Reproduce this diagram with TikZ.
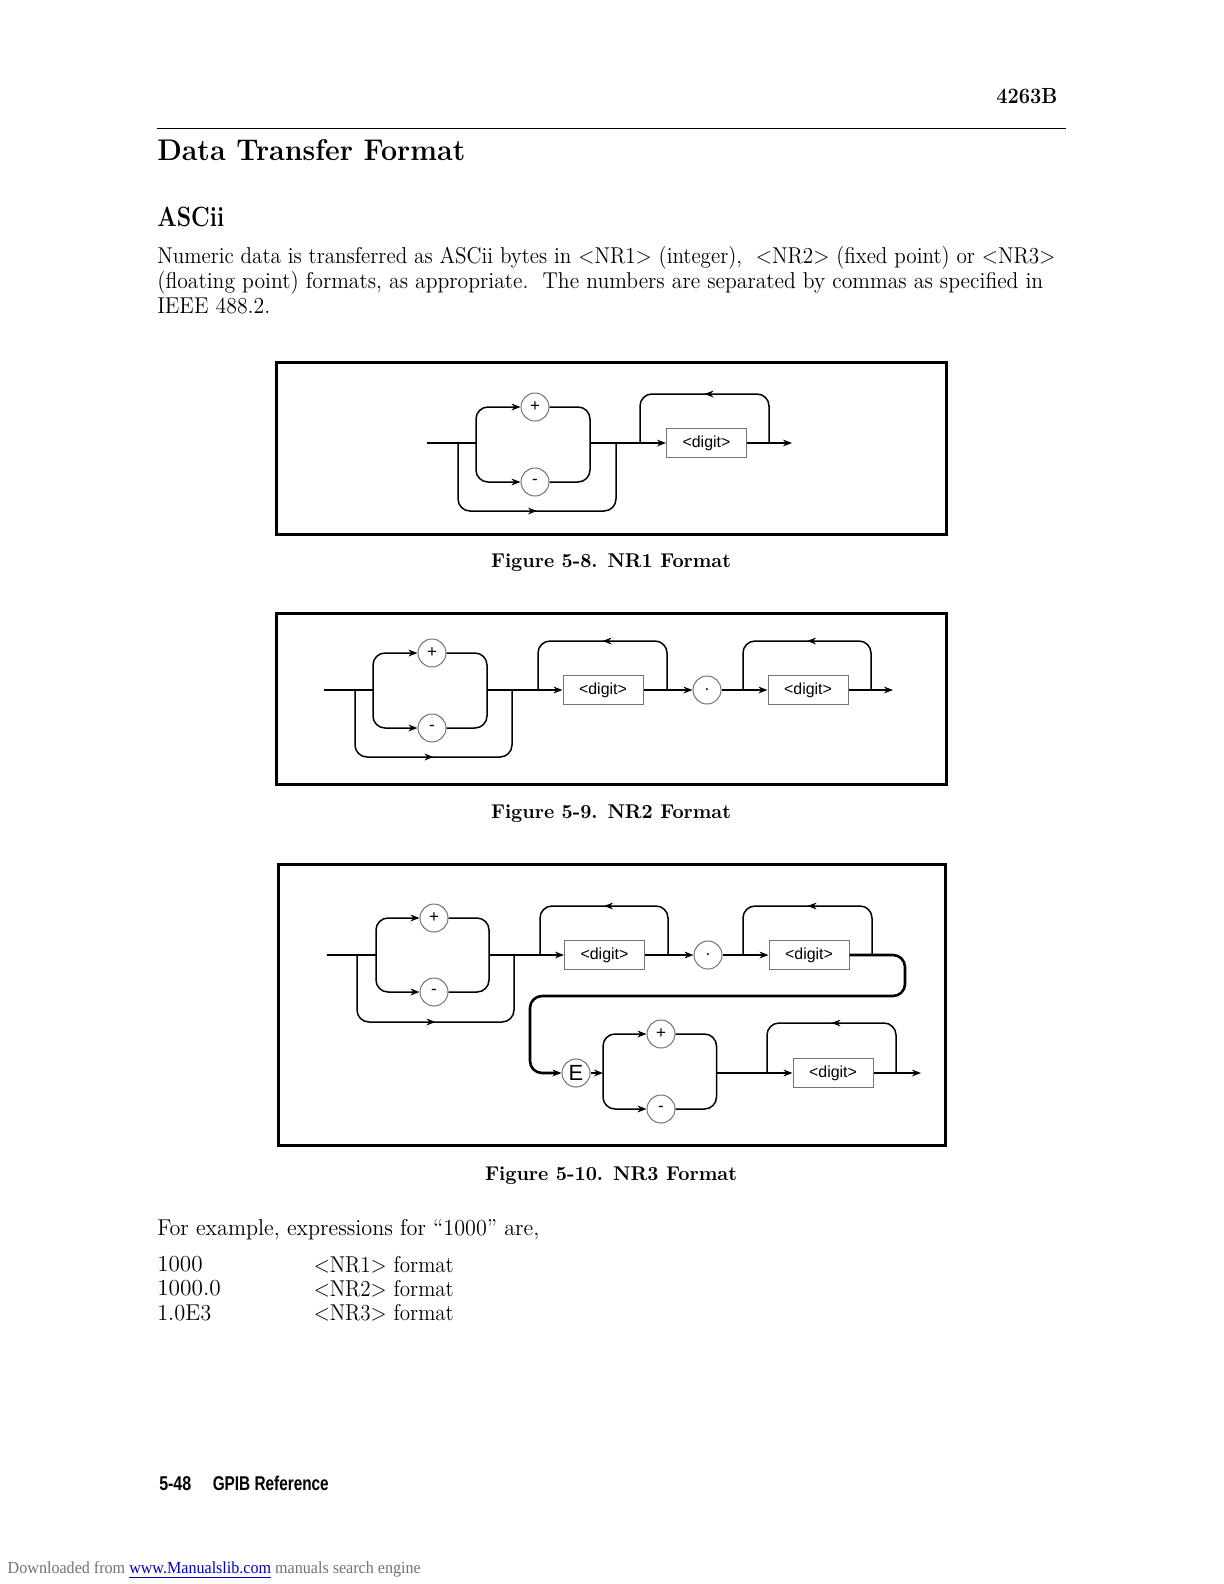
\documentclass[tikz,border=0pt]{standalone}
\usepackage{fontspec}
\setsansfont{Liberation Sans}
\newfontfamily\serifdl{Liberation Serif}
\usepackage{graphicx}
\usetikzlibrary{arrows.meta, decorations.markings}

% ajusta el ancho de una linea de texto
\newcommand{\ancho}[2]{\resizebox{#1}{\height}{#2}}

\tikzset{
  caja/.style={draw=black!55, line width=0.5bp, minimum width=40bp, minimum height=14.5bp, inner sep=0pt, font=\sffamily\fontsize{8}{8}\selectfont},
  circulo/.style={draw=black!55, line width=0.5bp, circle, minimum size=14bp, inner sep=0pt, font=\sffamily\fontsize{8.5}{8.5}\selectfont},
  marco/.style={line width=1.5bp},
  flechamedia/.style={postaction={decorate}, decoration={markings, mark=at position 0.5 with {\arrow{>}}}},
  texto/.style={anchor=west, inner sep=0pt},
}

\begin{document}
\begin{tikzpicture}[x=0.5bp, y=-0.5bp, >={Stealth[length=4.5bp, width=3.4bp]}, line width=0.75bp]
  \fill[white] (0,0) rectangle (1224,1584);
  \useasboundingbox (0,0) rectangle (1224,1584);

  % cabecera
  \node[texto, anchor=east, font=\bfseries\fontsize{11}{11}\selectfont] (modelo) at (1058,96) {\ancho{30.5bp}{4263B}};
  \draw (156.5,128.3) -- (1066,128.3);
  \node[texto, font=\bfseries\fontsize{15}{15}\selectfont] (titulo) at (156.5,150.5) {\ancho{154bp}{Data Transfer Format}};
  \node[texto, font=\bfseries\fontsize{14}{14}\selectfont] (ascii) at (156.5,217) {\ancho{33.5bp}{ASCii}};
  \node[texto, font=\fontsize{11.5}{11.5}\selectfont] (par1) at (156.5,258) {\ancho{449bp}{Numeric data is transferred as ASCii bytes in <NR1> (integer),\ \ <NR2> (fixed point) or <NR3>}};
  \node[texto, font=\fontsize{11.5}{11.5}\selectfont] (par2) at (156.5,282.5) {\ancho{443bp}{(floating point) formats, as appropriate.\ \ The numbers are separated by commas as specified in}};
  \node[texto, font=\fontsize{11.5}{11.5}\selectfont] (par3) at (156.5,305.5) {\ancho{56.5bp}{IEEE 488.2.}};

  % figura 5-8: NR1
  \draw[marco] (276.7,362.6) rectangle (946.3,534.3);
  \coordinate (d1in) at (427,443);
  \coordinate (d1a) at (458,443);
  \coordinate (d1b) at (476,443);
  \coordinate (d1c) at (590,443);
  \coordinate (d1j) at (616,443);
  \coordinate (d1f) at (640,443);
  \coordinate (d1g) at (769,443);
  \coordinate (d1out) at (792,443);
  \node[circulo] (d1p) at (535,407) {+};
  \node[circulo] (d1m) at (535,482) {-};
  \node[caja] (d1d) at (706.5,443) {<digit>};
  \draw (d1in) -- (d1b);
  \draw[->, rounded corners=6bp] (d1b) |- (d1p);
  \draw[->, rounded corners=6bp] (d1b) |- (d1m);
  \draw[rounded corners=6bp] (d1p) -| (d1c);
  \draw[rounded corners=6bp] (d1m) -| (d1c);
  \draw[flechamedia, rounded corners=6bp] (d1a) -- ++(0,68) -| (d1j);
  \draw[->] (d1c) -- (d1d);
  \draw[flechamedia, rounded corners=6bp] (d1g) -- ++(0,-49) -| (d1f);
  \draw[->] (d1d) -- (d1out);
  \node[font=\bfseries\fontsize{10}{10}\selectfont] (cap1) at (611,562.5) {\ancho{120bp}{Figure 5-8. NR1 Format}};

  % figura 5-9: NR2
  \draw[marco] (276.7,613) rectangle (946.3,784.7);
  \coordinate (d2in) at (324,690);
  \coordinate (d2a) at (355,690);
  \coordinate (d2b) at (373,690);
  \coordinate (d2c) at (487,690);
  \coordinate (d2j) at (512,690);
  \coordinate (d2f1) at (538,690);
  \coordinate (d2g1) at (667,690);
  \coordinate (d2f2) at (743,690);
  \coordinate (d2g2) at (871,690);
  \coordinate (d2out) at (893,690);
  \node[circulo] (d2p) at (432,653) {+};
  \node[circulo] (d2m) at (432,728) {-};
  \node[caja] (d2d1) at (603,690) {<digit>};
  \node[circulo] (d2pt) at (707,690) {.};
  \node[caja] (d2d2) at (808,690) {<digit>};
  \draw (d2in) -- (d2b);
  \draw[->, rounded corners=6bp] (d2b) |- (d2p);
  \draw[->, rounded corners=6bp] (d2b) |- (d2m);
  \draw[rounded corners=6bp] (d2p) -| (d2c);
  \draw[rounded corners=6bp] (d2m) -| (d2c);
  \draw[flechamedia, rounded corners=6bp] (d2a) -- ++(0,67) -| (d2j);
  \draw[->] (d2c) -- (d2d1);
  \draw[flechamedia, rounded corners=6bp] (d2g1) -- ++(0,-49) -| (d2f1);
  \draw[->] (d2d1) -- (d2pt);
  \draw[->] (d2pt) -- (d2d2);
  \draw[flechamedia, rounded corners=6bp] (d2g2) -- ++(0,-49) -| (d2f2);
  \draw[->] (d2d2) -- (d2out);
  \node[font=\bfseries\fontsize{10}{10}\selectfont] (cap2) at (611,814) {\ancho{120bp}{Figure 5-9. NR2 Format}};

  % figura 5-10: NR3
  \draw[marco] (278.7,864.5) rectangle (945.3,1145.3);
  \coordinate (d3in) at (327,955);
  \coordinate (d3a) at (357,955);
  \coordinate (d3b) at (376,955);
  \coordinate (d3c) at (489,955);
  \coordinate (d3j) at (514,955);
  \coordinate (d3f1) at (540,955);
  \coordinate (d3g1) at (668,955);
  \coordinate (d3f2) at (743,955);
  \coordinate (d3g2) at (872,955);
  \coordinate (d3r) at (905,996);
  \coordinate (d3l) at (530,996);
  \coordinate (d3b2) at (603,1073);
  \coordinate (d3c2) at (716.5,1073);
  \coordinate (d3f3) at (767,1073);
  \coordinate (d3g3) at (896,1073);
  \coordinate (d3out) at (921,1073);
  \node[circulo] (d3p) at (434,918) {+};
  \node[circulo] (d3m) at (434,992) {-};
  \node[caja] (d3d1) at (604.5,955) {<digit>};
  \node[circulo] (d3pt) at (708,955) {.};
  \node[caja] (d3d2) at (809,955) {<digit>};
  \node[circulo, font=\sffamily\fontsize{11}{11}\selectfont] (d3E) at (576,1073) {E};
  \node[circulo] (d3p2) at (661,1034) {+};
  \node[circulo] (d3m2) at (661,1109) {-};
  \node[caja] (d3d3) at (833,1073) {<digit>};
  \draw (d3in) -- (d3b);
  \draw[->, rounded corners=6bp] (d3b) |- (d3p);
  \draw[->, rounded corners=6bp] (d3b) |- (d3m);
  \draw[rounded corners=6bp] (d3p) -| (d3c);
  \draw[rounded corners=6bp] (d3m) -| (d3c);
  \draw[flechamedia, rounded corners=6bp] (d3a) -- ++(0,67) -| (d3j);
  \draw[->] (d3c) -- (d3d1);
  \draw[flechamedia, rounded corners=6bp] (d3g1) -- ++(0,-49) -| (d3f1);
  \draw[->] (d3d1) -- (d3pt);
  \draw[->] (d3pt) -- (d3d2);
  \draw[flechamedia, rounded corners=6bp] (d3g2) -- ++(0,-49) -| (d3f2);
  \draw[->, line width=1.3bp, rounded corners=6bp] (d3d2.east) -| (d3r) -- (d3l) |- (d3E);
  \draw[->] (d3E) -- (d3b2);
  \draw[->, rounded corners=6bp] (d3b2) |- (d3p2);
  \draw[->, rounded corners=6bp] (d3b2) |- (d3m2);
  \draw[rounded corners=6bp] (d3p2) -| (d3c2);
  \draw[rounded corners=6bp] (d3m2) -| (d3c2);
  \draw[->] (d3c2) -- (d3d3);
  \draw[flechamedia, rounded corners=6bp] (d3g3) -- ++(0,-50) -| (d3f3);
  \draw[->] (d3d3) -- (d3out);
  \node[font=\bfseries\fontsize{10}{10}\selectfont] (cap3) at (611,1175.5) {\ancho{126bp}{Figure 5-10. NR3 Format}};

  % ejemplos
  \node[texto, font=\fontsize{11.5}{11.5}\selectfont] (ej) at (156.5,1230) {\ancho{191bp}{For example, expressions for “1000” are,}};
  \node[texto, font=\fontsize{11.5}{11.5}\selectfont] (v1) at (156.5,1264.5) {\ancho{22.7bp}{1000}};
  \node[texto, font=\fontsize{11.5}{11.5}\selectfont] (v2) at (156.5,1288.5) {\ancho{31.8bp}{1000.0}};
  \node[texto, font=\fontsize{11.5}{11.5}\selectfont] (v3) at (156.5,1312.5) {\ancho{27bp}{1.0E3}};
  \node[texto, font=\fontsize{11.5}{11.5}\selectfont] (f1) at (313,1264.5) {\ancho{70bp}{<NR1> format}};
  \node[texto, font=\fontsize{11.5}{11.5}\selectfont] (f2) at (313,1288.5) {\ancho{70bp}{<NR2> format}};
  \node[texto, font=\fontsize{11.5}{11.5}\selectfont] (f3) at (313,1312.5) {\ancho{70bp}{<NR3> format}};

  % pie de pagina
  \node[texto, font=\sffamily\bfseries\fontsize{10}{10}\selectfont] (pag) at (158.5,1483.5) {\ancho{16bp}{5-48}};
  \node[texto, font=\sffamily\bfseries\fontsize{10}{10}\selectfont] (ref) at (212,1483.5) {\ancho{58bp}{GPIB Reference}};
  \node[texto, font=\serifdl\fontsize{8.5}{8.5}\selectfont, text=black!55] (dl) at (7,1570) {\ancho{206.5bp}{Downloaded from \textcolor{blue!75!black}{\underline{www.Manualslib.com}} manuals search engine}};
\end{tikzpicture}
\end{document}
